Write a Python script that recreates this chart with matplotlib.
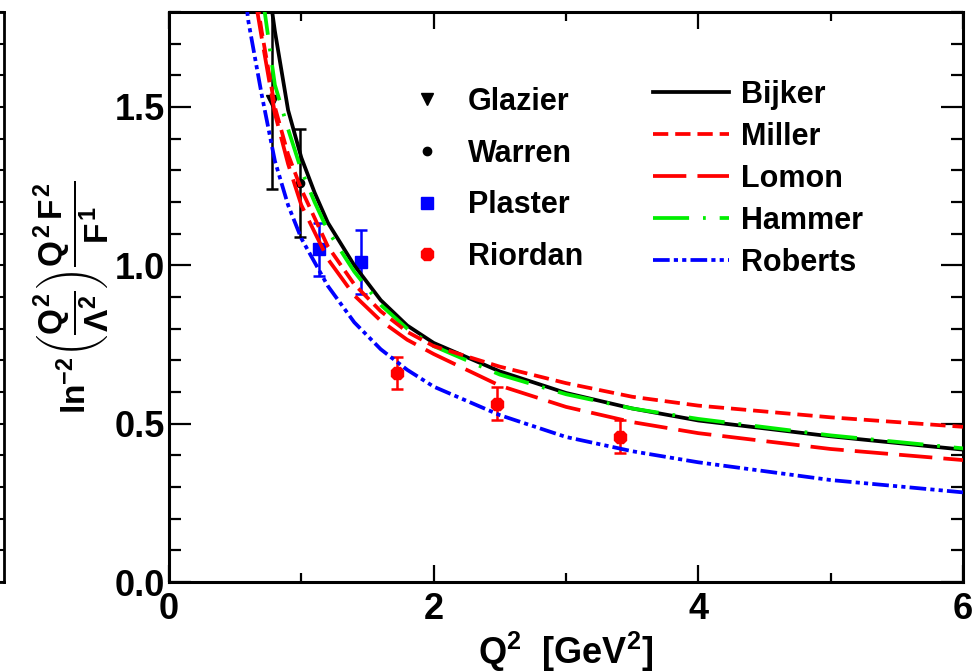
import matplotlib
matplotlib.use('Agg')
from matplotlib import pyplot as plt
from matplotlib.ticker import MultipleLocator

# Model curves: ln^-2(Q^2/Lambda^2) Q^2 F2/F1 against Q^2 [GeV^2]
q2_bijker = [0.76, 0.8, 0.9, 1.0, 1.1, 1.2, 1.4, 1.6, 1.8, 2.0, 2.5, 3.0, 3.5, 4.0, 5.0, 6.0]
r_bijker = [1.86, 1.74, 1.49, 1.34, 1.23, 1.135, 1.0, 0.89, 0.81, 0.755, 0.665, 0.597, 0.548, 0.51, 0.46, 0.418]

q2_miller = [0.66, 0.7, 0.8, 0.9, 1.0, 1.2, 1.4, 1.6, 1.8, 2.0, 2.5, 3.0, 3.5, 4.0, 5.0, 6.0]
r_miller = [1.85, 1.74, 1.50, 1.35, 1.24, 1.06, 0.94, 0.855, 0.79, 0.745, 0.68, 0.628, 0.585, 0.557, 0.52, 0.49]

q2_lomon = [0.66, 0.7, 0.8, 0.9, 1.0, 1.2, 1.4, 1.6, 1.8, 2.0, 2.5, 3.0, 3.5, 4.0, 5.0, 6.0]
r_lomon = [1.82, 1.72, 1.48, 1.32, 1.19, 1.02, 0.905, 0.825, 0.765, 0.72, 0.62, 0.553, 0.505, 0.47, 0.42, 0.385]

q2_hammer = [0.7, 0.73, 0.8, 0.9, 1.0, 1.1, 1.2, 1.4, 1.6, 1.8, 2.0, 2.5, 3.0, 3.5, 4.0, 5.0, 6.0]
r_hammer = [1.87, 1.78, 1.57, 1.43, 1.30, 1.20, 1.11, 0.98, 0.875, 0.80, 0.745, 0.655, 0.593, 0.548, 0.515, 0.463, 0.422]

q2_roberts = [0.58, 0.6, 0.7, 0.8, 0.9, 1.0, 1.2, 1.4, 1.6, 1.8, 2.0, 2.5, 3.0, 3.5, 4.0, 5.0, 6.0]
r_roberts = [1.84, 1.77, 1.54, 1.33, 1.19, 1.085, 0.935, 0.82, 0.735, 0.67, 0.617, 0.527, 0.458, 0.413, 0.378, 0.322, 0.283]

# Measurements with errors
glazier_q2 = [0.78]
glazier_r = [1.52]
glazier_err = [0.28]

warren_q2 = [0.99]
warren_r = [1.26]
warren_err = [0.17]

plaster_q2 = [1.13, 1.45]
plaster_r = [1.05, 1.01]
plaster_err = [0.085, 0.10]

riordan_q2 = [1.72, 2.48, 3.41]
riordan_r = [0.66, 0.563, 0.459]
riordan_err = [0.05, 0.052, 0.052]

data_labels = ['Glazier', 'Warren', 'Plaster', 'Riordan']
model_labels = ['Bijker', 'Miller', 'Lomon', 'Hammer', 'Roberts']


def main():
    plt.rcParams['font.family'] = ['Liberation Sans', 'DejaVu Sans']
    plt.rcParams['font.weight'] = 'bold'
    plt.rcParams['mathtext.fontset'] = 'custom'
    plt.rcParams['mathtext.rm'] = 'Liberation Sans:bold'
    plt.rcParams['mathtext.it'] = 'Liberation Sans:bold'
    plt.rcParams['mathtext.bf'] = 'Liberation Sans:bold'
    plt.rcParams['lines.scale_dashes'] = False

    fig = plt.figure(figsize=(9.72, 6.72), dpi=100)
    W, H = 972.0, 672.0
    left, right, top, bottom = 169, 963, 12, 582
    ax = fig.add_axes([left / W, 1 - bottom / H, (right - left) / W, (bottom - top) / H])

    # Edge of the neighbouring panel on the left
    ax0 = fig.add_axes([-0.4, 1 - bottom / H, 0.4 + 3.5 / W, (bottom - top) / H])
    ax0.set_ylim(0, 1.8)
    ax0.set_xticks([])
    ax0.yaxis.set_major_locator(MultipleLocator(0.5))
    ax0.yaxis.set_minor_locator(MultipleLocator(0.1))
    ax0.tick_params(axis='y', which='both', direction='in', left=False, right=True,
                    labelleft=False, width=1.5)
    ax0.tick_params(axis='y', which='major', length=12)
    ax0.tick_params(axis='y', which='minor', length=7)
    for sp in ax0.spines.values():
        sp.set_linewidth(2)

    # Data points (drawn below the curves)
    ekw = dict(linestyle='none', elinewidth=1.8, capsize=4, capthick=1.8, zorder=2)
    g = ax.errorbar(glazier_q2, glazier_r, yerr=glazier_err, marker='v', ms=9,
                    color='black', **ekw)
    w = ax.errorbar(warren_q2, warren_r, yerr=warren_err, marker='o', ms=6,
                    color='black', **ekw)
    p = ax.errorbar(plaster_q2, plaster_r, yerr=plaster_err, marker='s', ms=8,
                    color='#0000ff', **ekw)
    r = ax.errorbar(riordan_q2, riordan_r, yerr=riordan_err, marker='8', ms=10,
                    color='#ff0000', **ekw)

    lw = 2.7
    l1, = ax.plot(q2_bijker, r_bijker, color='black', lw=lw, ls='-', zorder=3)
    l4, = ax.plot(q2_hammer, r_hammer, color='#00ee00', lw=lw, ls=(0, (26, 10, 2, 10)),
                  zorder=3)
    l2, = ax.plot(q2_miller, r_miller, color='#ff0000', lw=lw, ls=(0, (11, 5)), zorder=3)
    l3, = ax.plot(q2_lomon, r_lomon, color='#ff0000', lw=lw, ls=(0, (24, 8)), zorder=3)
    l5, = ax.plot(q2_roberts, r_roberts, color='#0000ff', lw=lw,
                  ls=(0, (12, 3, 3, 3, 3, 3)), zorder=3)

    ax.set_xlim(0, 6)
    ax.set_ylim(0, 1.8)
    ax.xaxis.set_major_locator(MultipleLocator(2))
    ax.xaxis.set_minor_locator(MultipleLocator(1))
    ax.yaxis.set_major_locator(MultipleLocator(0.5))
    ax.yaxis.set_minor_locator(MultipleLocator(0.1))
    ax.yaxis.set_major_formatter(lambda v, pos: '%.1f' % v)
    ax.tick_params(which='both', direction='in', top=True, right=True, width=1.6,
                   labelsize=26)
    ax.tick_params(axis='x', which='major', length=12, pad=7)
    ax.tick_params(axis='x', which='minor', length=6.5)
    ax.tick_params(axis='y', which='major', length=16, pad=3)
    ax.tick_params(axis='y', which='minor', length=8.5)
    for sp in ax.spines.values():
        sp.set_linewidth(2.2)

    ax.set_xlabel(r'Q$^{2}$  [GeV$^{2}$]', fontsize=26, fontweight='bold', labelpad=2)
    ax.set_ylabel(r'$\mathrm{ln^{-2}}\left(\dfrac{Q^2}{\Lambda^2}\right)\dfrac{Q^2\,F^2}{F^1}$',
                  fontsize=24)
    ax.yaxis.set_label_coords(-0.072, 0.50)

    # Two legend blocks: data sets and models
    leg1 = ax.legend([g[0], w[0], p[0], r[0]], data_labels, loc='upper left',
                     bbox_to_anchor=(0.29, 0.89), frameon=False, fontsize=22,
                     handlelength=1.0, handletextpad=0.85, labelspacing=0.71,
                     borderaxespad=0)
    ax.add_artist(leg1)
    ax.legend([l1, l2, l3, l4, l5], model_labels, loc='upper left',
              bbox_to_anchor=(0.594, 0.902), frameon=False, fontsize=22,
              handlelength=2.5, handletextpad=0.4, labelspacing=0.39,
              borderaxespad=0)

    fig.savefig('out.png', dpi=100)


if __name__ == "__main__":
    main()
